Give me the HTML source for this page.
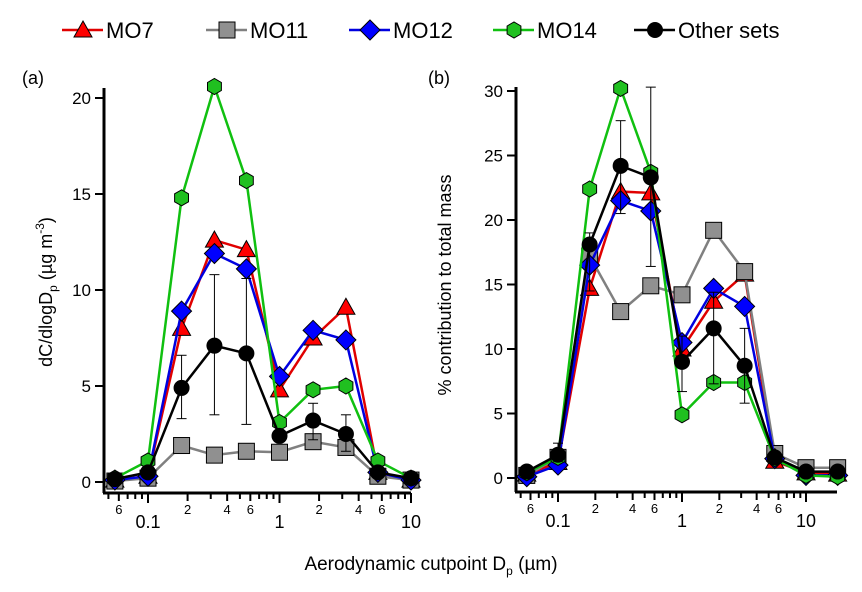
<!DOCTYPE html>
<html><head><meta charset="utf-8"><style>
body{margin:0;background:#fff;}
svg{display:block;font-family:"Liberation Sans",sans-serif;}
</style></head><body>
<svg id="chart" width="862" height="592" viewBox="0 0 862 592" xmlns="http://www.w3.org/2000/svg"></svg>
<script>
const seriesNames=["MO7","MO11","MO12","MO14","Other sets"];
const cutA=[0.056,0.1,0.18,0.32,0.56,1,1.8,3.2,5.6,10];
const cutB=[0.056,0.1,0.18,0.32,0.56,1,1.8,3.2,5.6,10,18];
const aMO7=[0.1,0.3,8.0,12.6,12.1,4.8,7.5,9.1,0.5,0.1];
const aMO11=[0.05,0.2,1.9,1.4,1.6,1.55,2.1,1.8,0.3,0.1];
const aMO12=[0.1,0.3,8.9,11.9,11.1,5.5,7.9,7.4,0.5,0.1];
const aMO14=[0.2,1.1,14.8,20.6,15.7,3.1,4.8,5.0,1.1,0.2];
const aOther=[0.15,0.5,4.9,7.1,6.7,2.4,3.2,2.5,0.5,0.2];
const aErrLo=[null,null,3.3,3.5,3.0,2.1,2.2,1.6,null,null];
const aErrHi=[null,null,6.6,10.8,10.6,2.6,4.1,3.5,null,null];
const bMO7=[0.3,1.2,14.7,22.2,22.1,10,13.7,15.8,1.3,0.4,0.3];
const bMO11=[0.2,1.6,17.2,12.9,14.9,14.2,19.2,16.0,1.9,0.8,0.8];
const bMO12=[0.1,1.0,16.5,21.5,20.7,10.5,14.7,13.3,1.5,0.2,0.2];
const bMO14=[0.4,1.6,22.4,30.2,23.7,4.9,7.4,7.4,1.5,0.2,0.1];
const bOther=[0.5,1.8,18.1,24.2,23.3,9.0,11.6,8.7,1.6,0.5,0.5];
const bErrLo=[null,1.3,14.5,20.5,16.4,6.7,7.3,5.8,null,null,null];
const bErrHi=[null,2.7,19.0,27.7,30.3,11.0,14.4,11.6,null,null,null];
const yTicksA=[0,5,10,15,20];
const yTicksB=[0,5,10,15,20,25,30];

const svg=document.getElementById('chart');
const NS="http://www.w3.org/2000/svg";
function mk(tag,attrs,parent){const e=document.createElementNS(NS,tag);for(const k in attrs)e.setAttribute(k,attrs[k]);(parent||svg).appendChild(e);return e;}
const colors=["#e00000","#808080","#0000e0","#10c010","#000000"];
const fills=["#ff0000","#909090","#0000ff","#20c020","#000000"];
function marker(g,type,x,y,s){
  s=s||8;
  const c={stroke:"#000","stroke-width":1};
  let e;
  if(type===0){e=mk('polygon',Object.assign({points:`${x},${y-s-1} ${x+s+1},${y+s-1} ${x-s-1},${y+s-1}`,fill:fills[0]},c),g);}
  else if(type===1){e=mk('rect',Object.assign({x:x-s,y:y-s,width:2*s,height:2*s,fill:fills[1]},c),g);}
  else if(type===2){const d=s+2;e=mk('polygon',Object.assign({points:`${x},${y-d} ${x+d},${y} ${x},${y+d} ${x-d},${y}`,fill:fills[2]},c),g);}
  else if(type===3){let p=[];for(let i=0;i<6;i++){const a=Math.PI/3*i+Math.PI/6;p.push((x+s*Math.cos(a)).toFixed(1)+","+(y+s*Math.sin(a)).toFixed(1));}e=mk('polygon',Object.assign({points:p.join(" "),fill:fills[3]},c),g);}
  else {e=mk('circle',{cx:x,cy:y,r:s,fill:"#000"},g);}
  return e;
}
function panel(cfg){
  const g=mk('g',{});
  
  
  const xs=v=>cfg.x0+(Math.log10(v)+1)*cfg.dec;
  const ys=v=>cfg.y0-v*cfg.py;
  const ya=mk('line',{x1:cfg.xl,y1:cfg.yTop,x2:cfg.xl,y2:cfg.yb,stroke:"#000","stroke-width":3},g);
  
  const xa=mk('line',{x1:cfg.xl-1,y1:cfg.yb,x2:cfg.xr,y2:cfg.yb,stroke:"#000","stroke-width":3},g);
  
  cfg.yt.forEach(t=>{
    mk('line',{x1:cfg.xl-9,y1:ys(t),x2:cfg.xl,y2:ys(t),stroke:"#000","stroke-width":2},g);
    const tx=mk('text',{x:cfg.xl-13,y:ys(t)+6,"text-anchor":"end","font-size":17},g);tx.textContent=t;
    
  });
  for(let d=-2;d<=1;d++){for(let m=1;m<10;m++){
    const v=m*Math.pow(10,d);const x=xs(v);
    if(x<cfg.xl+2||x>cfg.xr+1)continue;
    const len=m===1?10:(m===2||m===4||m===6?8:6);
    mk('line',{x1:x,y1:cfg.yb,x2:x,y2:cfg.yb+len,stroke:"#000","stroke-width":2},g);
    if(m===1){const tx=mk('text',{x:x,y:cfg.yb+35,"text-anchor":"middle","font-size":18},g);tx.textContent=(d===-1?"0.1":d===0?"1":"10");
      }
    else if(m===2||m===4||m===6){const tx=mk('text',{x:x,y:cfg.yb+21,"text-anchor":"middle","font-size":13},g);tx.textContent=m;
      }
  }}
  cfg.series.forEach((vals,si)=>{
    const sg=mk('g',{},g);
    
    
    const pts=vals.map((v,i)=>xs(cfg.cut[i]).toFixed(1)+","+ys(v).toFixed(1)).join(" ");
    mk('polyline',{points:pts,fill:"none",stroke:colors[si],"stroke-width":2.5},sg);
    if(si===4){cfg.lo.forEach((lo,i)=>{if(lo===null)return;const x=xs(cfg.cut[i]);
      mk('line',{x1:x,y1:ys(lo),x2:x,y2:ys(cfg.hi[i]),stroke:"#000","stroke-width":1},sg);
      mk('line',{x1:x-5,y1:ys(lo),x2:x+5,y2:ys(lo),stroke:"#000","stroke-width":1},sg);
      mk('line',{x1:x-5,y1:ys(cfg.hi[i]),x2:x+5,y2:ys(cfg.hi[i]),stroke:"#000","stroke-width":1},sg);});}
    vals.forEach((v,i)=>{const m=marker(sg,si,xs(cfg.cut[i]),ys(v));
      });
  });
}
panel({name:'panel-a',x0:148,dec:131.5,y0:482,py:19.2,xl:104,xr:411,yb:493,yTop:88,yt:yTicksA,cut:cutA,
  series:[aMO7,aMO11,aMO12,aMO14,aOther],lo:aErrLo,hi:aErrHi});
panel({name:'panel-b',x0:558,dec:124,y0:478,py:12.9,xl:516,xr:837,yb:492,yTop:87,yt:yTicksB,cut:cutB,
  series:[bMO7,bMO11,bMO12,bMO14,bOther],lo:bErrLo,hi:bErrHi});
const lg=mk('g',{});

const lx=[83,227,370,514,655];
seriesNames.forEach((n,i)=>{
  const eg=mk('g',{},lg);
  
  mk('line',{x1:lx[i]-21,y1:30,x2:lx[i]+20,y2:30,stroke:colors[i],"stroke-width":2.5},eg);
  marker(eg,i,lx[i],30);
  const t=mk('text',{x:lx[i]+23,y:38,"font-size":22},eg);t.textContent=n;
});
function label(txt,attrs,name){const t=mk('text',attrs);t.innerHTML=txt;}
label("(a)",{x:22,y:84,"font-size":18},'panel-a-label');
label("(b)",{x:428,y:84,"font-size":18},'panel-b-label');
label('dC/dlogD<tspan font-size="12" dy="5">p</tspan><tspan dy="-5"> (µg m</tspan><tspan font-size="12" dy="-8">-3</tspan><tspan dy="8">)</tspan>',{transform:"translate(52,292) rotate(-90)","text-anchor":"middle","font-size":18},'y-axis-title-a');
label("% contribution to  total mass",{transform:"translate(451,285) rotate(-90)","text-anchor":"middle","font-size":18},'y-axis-title-b');
label('Aerodynamic cutpoint D<tspan font-size="12" dy="5">p</tspan><tspan dy="-5"> (µm)</tspan>',{x:431,y:570,"text-anchor":"middle","font-size":19},'x-axis-title');
</script>
</body></html>
